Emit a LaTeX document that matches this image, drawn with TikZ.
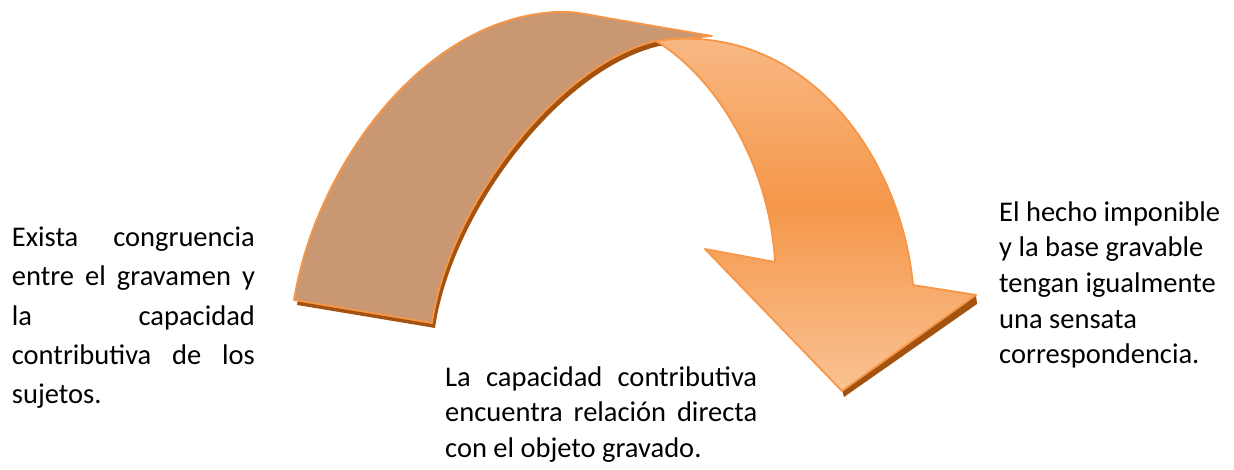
\documentclass[tikz,border=0pt]{standalone}
\usepackage{fontspec}
\setmainfont{Carlito}
\definecolor{bandbrown}{HTML}{C99872}
\definecolor{edgeorange}{HTML}{F79646}
\definecolor{shadowbrown}{HTML}{A4520F}
\definecolor{orangetop}{HTML}{F9BC8A}
\definecolor{orangemid}{HTML}{F5974A}
\definecolor{orangebot}{HTML}{FAC293}
\newcommand{\topstrut}{\rule{0pt}{30pt}}
\tolerance=10000
\hbadness=10000
\begin{document}
\begin{tikzpicture}[x=1pt,y=-1pt,
  outline/.style={draw=edgeorange, line width=1.8pt, line join=round},
  txt/.style={inner sep=0pt, anchor=north west,
    font=\fontsize{28.5}{35.6}\selectfont}]
\useasboundingbox (0,0) rectangle (1234,470);

% shadow of the brown band
\fill[shadowbrown, shift={(3,5)}]
  (294,300) .. controls (315,170) and (420,20) .. (555,12)
  .. controls (575,11) and (590,15) .. (610,18.5) -- (712,36) -- (656,41)
  .. controls (555,65) and (448,210) .. (432,323) -- cycle;
% brown band
\path[fill=bandbrown, outline]
  (294,300) .. controls (315,170) and (420,20) .. (555,12)
  .. controls (575,11) and (590,15) .. (610,18.5) -- (712,36) -- (656,41)
  .. controls (555,65) and (448,210) .. (432,323) -- cycle;

% shadow of the arrow head
\fill[shadowbrown] (976,295) -- (977,304) -- (844,397) -- (842,390) -- cycle;
% orange arrow
\path[top color=orangetop, bottom color=orangebot, middle color=orangemid, outline]
  (656,41) .. controls (800,20) and (900,150) .. (913,285) -- (976,295)
  -- (842,391) -- (705,249) -- (775,262)
  .. controls (770,170) and (720,80) .. (656,41) -- cycle;

% texts
\node[txt, text width=243pt, align=justify,
  font=\fontsize{28.5}{39.1}\selectfont]
  (left) at (11.7,216.7)
  {\topstrut Exista congruencia\linebreak entre el gravamen y\linebreak la capacidad\linebreak contributiva de los\linebreak sujetos.};
\node[txt, text width=312pt, align=justify] (middle) at (445,356)
  {\topstrut La capacidad contributiva\linebreak encuentra relación directa\linebreak con el objeto gravado.};
\node[txt, align=left] (right) at (999,191)
  {\topstrut El hecho imponible\\y la base gravable\\tengan igualmente\\una sensata\\correspondencia.};
\end{tikzpicture}
\end{document}
